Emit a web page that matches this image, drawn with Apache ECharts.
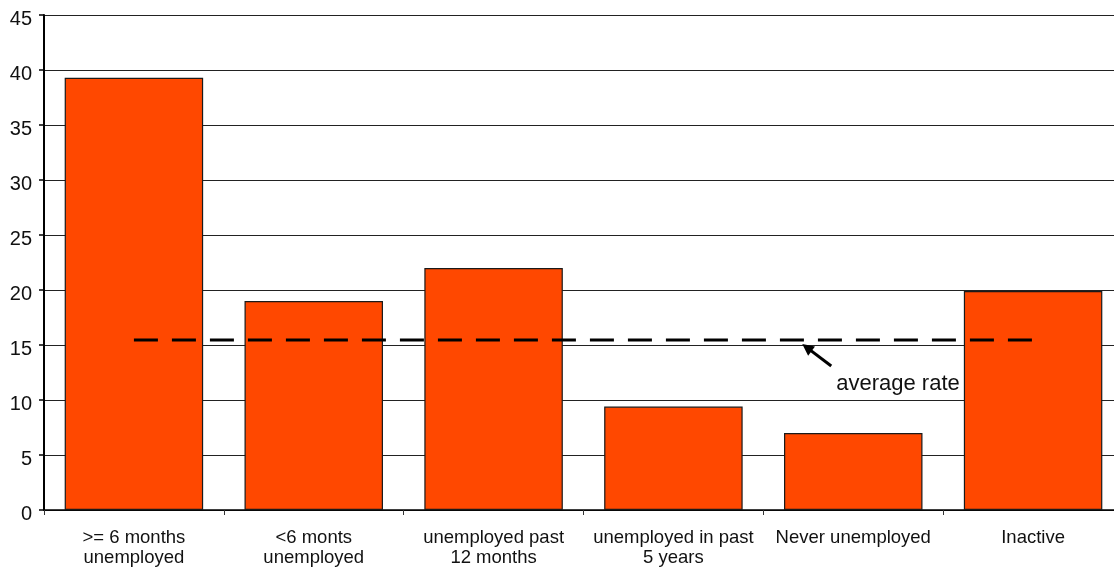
<!DOCTYPE html>
<html>
<head>
<meta charset="utf-8">
<script src="https://cdn.jsdelivr.net/npm/echarts@6/dist/echarts.min.js"></script>
<style>
  html, body { margin: 0; padding: 0; background: #fff; overflow: hidden; }
  #chart { width: 1114px; height: 567px; }
</style>
</head>
<body>
<div id="chart"></div>
<script>
// Share of group (%) by labour-market status
const categories = [
  '>= 6 months\nunemployed',
  '<6 monts\nunemployed',
  'unemployed past\n12 months',
  'unemployed in past\n5 years',
  'Never unemployed',
  'Inactive'
];
const rates = [39.3, 19.0, 22.0, 9.4, 7.0, 19.9];
const averageRate = 15.45;
const yTicks = { min: 0, max: 45, interval: 5 };
const annotationText = 'average rate';

const FONT = '"Liberation Sans", Arial, Helvetica, sans-serif';
const chart = echarts.init(document.getElementById('chart'), null, { renderer: 'canvas' });

chart.setOption({
  animation: false,
  backgroundColor: '#ffffff',
  // the plot runs a little past the right edge of the canvas
  grid: {
    left: 44, width: 1079, top: 15, height: 495,
    containLabel: false, outerBoundsMode: 'none'
  },
  xAxis: {
    type: 'category',
    data: categories,
    boundaryGap: true,
    axisLine: { show: true, lineStyle: { color: '#000', width: 1.5 } },
    axisTick: { show: true, length: 5, alignWithLabel: false, lineStyle: { color: '#333', width: 1 } },
    axisLabel: {
      color: '#111', fontFamily: FONT, fontSize: 18.5, lineHeight: 20,
      margin: 18, interval: 0
    },
    splitLine: { show: false }
  },
  yAxis: {
    type: 'value',
    min: yTicks.min, max: yTicks.max, interval: yTicks.interval,
    axisLine: { show: true, lineStyle: { color: '#000', width: 2 } },
    axisTick: { show: true, length: 5, lineStyle: { color: '#000', width: 1.5 } },
    // labels sit slightly below their gridlines
    axisLabel: {
      color: '#111', fontFamily: FONT, fontSize: 20, margin: 12,
      verticalAlign: 'top', lineHeight: 9
    },
    splitLine: { show: true, lineStyle: { color: '#222', width: 1.2 } }
  },
  series: [
    {
      type: 'bar',
      data: rates,
      barCategoryGap: '23%',
      itemStyle: { color: '#ff4800', borderColor: '#1a1a1a', borderWidth: 1.2 },
      z: 2
    },
    {
      type: 'line',
      data: categories.map(() => averageRate),
      symbol: 'none',
      lineStyle: { color: '#000', width: 3, type: [24, 14] },
      z: 3
    }
  ]
});

// Annotation: arrow pointing at the average line, with its caption
function drawAnnotation() {
  const anchor = chart.convertToPixel({ gridIndex: 0 }, [4, averageRate]);
  const tipX = anchor[0] - 51, tipY = anchor[1] + 4;
  const tailX = tipX + 29, tailY = tipY + 22;
  const ang = Math.atan2(tipY - tailY, tipX - tailX);
  const head = 13, spread = 0.45;
  chart.setOption({
    graphic: [
      {
        type: 'line', z: 10,
        shape: { x1: tailX, y1: tailY, x2: tipX - Math.cos(ang) * 8, y2: tipY - Math.sin(ang) * 8 },
        style: { stroke: '#000', lineWidth: 3 }
      },
      {
        type: 'polygon', z: 10,
        shape: { points: [
          [tipX, tipY],
          [tipX - head * Math.cos(ang - spread), tipY - head * Math.sin(ang - spread)],
          [tipX - head * Math.cos(ang + spread), tipY - head * Math.sin(ang + spread)]
        ] },
        style: { fill: '#000' }
      },
      {
        type: 'text', z: 10,
        x: tailX + 5, y: tailY + 18,
        style: {
          text: annotationText, fill: '#111', font: '22px ' + FONT,
          textAlign: 'left', textVerticalAlign: 'middle'
        }
      }
    ]
  });
}
drawAnnotation();
</script>
</body>
</html>
